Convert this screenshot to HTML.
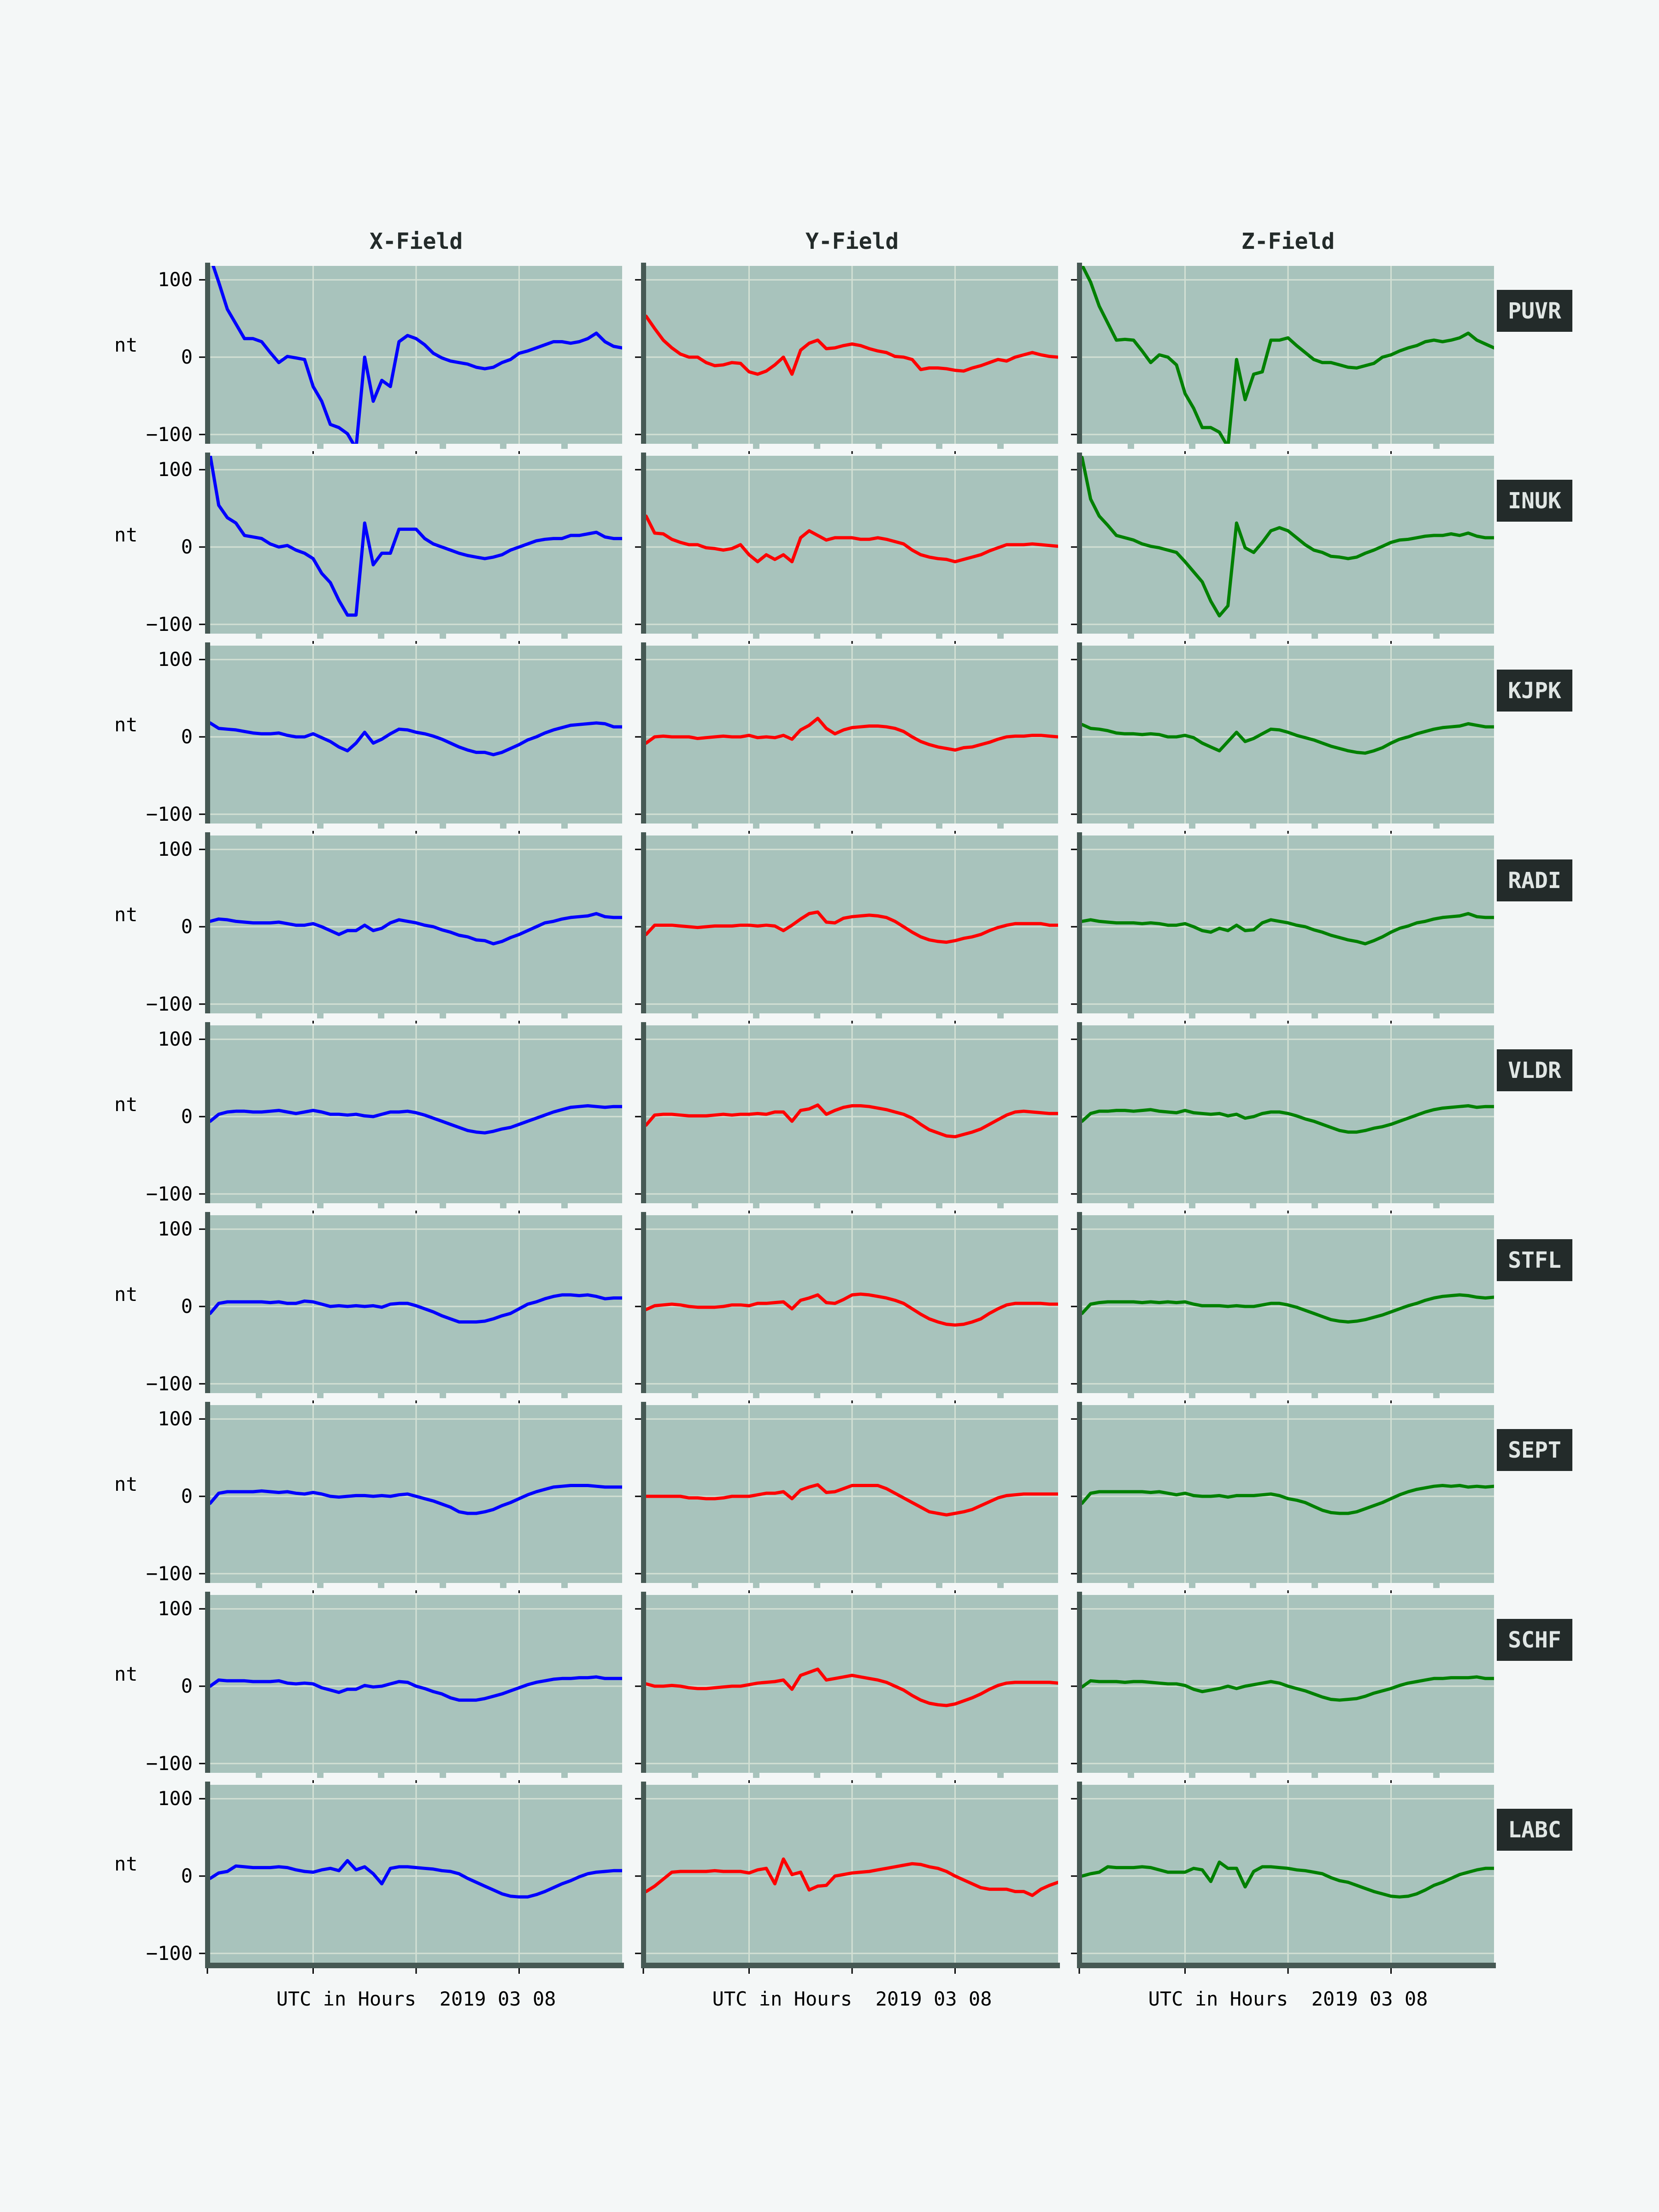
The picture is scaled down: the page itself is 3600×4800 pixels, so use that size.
<!DOCTYPE html>
<html>
<head>
<meta charset="utf-8">
<style>
html,body{margin:0;padding:0;background:#f4f7f7;}
svg{display:block;}
text{font-family:"DejaVu Sans Mono","Liberation Mono",monospace;}
</style>
</head>
<body>
<svg id="chart" xmlns="http://www.w3.org/2000/svg" width="3600" height="4800" viewBox="0 0 3600 4800">
<rect x="0" y="0" width="3600" height="4800" fill="#f4f7f7"/>
</svg>
<script>
const hours = [0,0.5,1,1.5,2,2.5,3,3.5,4,4.5,5,5.5,6,6.5,7,7.5,8,8.5,9,9.5,10,10.5,11,11.5,12,12.5,13,13.5,14,14.5,15,15.5,16,16.5,17,17.5,18,18.5,19,19.5,20,20.5,21,21.5,22,22.5,23,23.5,24];
const yTicks = [100,0,-100];
const yTickLabels = ["100","0","\u2212100"];
const xGridHours = [6,12,18];
const fieldTitles = ["X-Field","Y-Field","Z-Field"];
const stationNames = ["PUVR","INUK","KJPK","RADI","VLDR","STFL","SEPT","SCHF","LABC"];

const puvrX = [130,97,62,43,24,24,20,6,-7,1,-1,-3,-38,-57,-87,-91,-99,-118,0,-57,-30,-38,20,28,24,16,5,-1,-5,-7,-9,-13,-15,-13,-7,-3,5,8,12,16,20,20,18,20,24,31,20,14,12];
const puvrY = [53,37,22,12,4,0,0,-7,-11,-10,-7,-8,-19,-22,-18,-10,0,-22,9,18,22,11,12,15,17,15,11,8,6,1,0,-3,-16,-14,-14,-15,-17,-18,-14,-11,-7,-3,-5,0,3,6,3,1,0];
const puvrZ = [119,97,66,44,22,23,22,8,-7,3,0,-10,-47,-66,-91,-91,-97,-116,-3,-55,-22,-19,22,22,25,15,6,-3,-7,-7,-10,-13,-14,-11,-8,0,3,8,12,15,20,22,20,22,25,31,22,17,12];
const inukX = [119,54,38,31,15,13,11,4,0,2,-4,-8,-15,-34,-46,-69,-88,-88,31,-23,-8,-8,23,23,23,11,4,0,-4,-8,-11,-13,-15,-13,-10,-4,0,4,8,10,11,11,15,15,17,19,13,11,11];
const inukY = [40,18,17,10,6,3,3,-1,-2,-4,-2,3,-10,-19,-10,-16,-10,-19,12,21,15,9,12,12,12,10,10,12,10,7,4,-4,-10,-13,-15,-16,-19,-16,-13,-10,-5,-1,3,3,3,4,3,2,1];
const inukZ = [116,62,40,28,15,12,9,4,1,-1,-4,-7,-19,-32,-45,-70,-89,-76,31,-1,-7,6,21,25,21,12,3,-4,-7,-12,-13,-15,-13,-8,-4,1,6,9,10,12,14,15,15,17,15,18,14,12,12];
const kjpkX = [18,11,10,9,7,5,4,4,5,2,0,0,4,-1,-6,-13,-18,-8,6,-8,-3,4,10,9,6,4,1,-3,-8,-13,-17,-20,-20,-23,-20,-15,-10,-4,0,5,9,12,15,16,17,18,17,13,13];
const kjpkY = [-8,0,1,0,0,0,-2,-1,0,1,0,0,2,-1,0,-1,2,-3,9,15,24,11,4,9,12,13,14,14,13,11,7,0,-6,-10,-13,-15,-17,-14,-13,-10,-7,-3,0,1,1,2,2,1,0];
const kjpkZ = [16,11,10,8,5,4,4,3,4,3,0,0,2,-1,-8,-13,-18,-6,6,-6,-2,4,10,9,6,2,-1,-4,-8,-12,-15,-18,-20,-21,-18,-14,-8,-3,0,4,7,10,12,13,14,17,15,13,13];
const radiX = [7,10,9,7,6,5,5,5,6,4,2,2,4,0,-5,-10,-5,-5,2,-5,-2,5,9,7,5,2,0,-4,-7,-11,-13,-17,-18,-22,-19,-14,-10,-5,0,5,7,10,12,13,14,17,13,12,12];
const radiY = [-10,2,2,2,1,0,-1,0,1,1,1,2,2,1,2,1,-5,2,10,17,19,6,5,11,13,14,15,14,12,7,0,-7,-13,-17,-19,-20,-18,-15,-13,-10,-5,-1,2,4,4,4,4,2,2];
const radiZ = [7,9,7,6,5,5,5,4,5,4,2,2,4,0,-5,-7,-2,-5,2,-5,-4,5,9,7,5,2,0,-4,-7,-11,-14,-17,-19,-22,-18,-13,-7,-2,1,5,7,10,12,13,14,17,13,12,12];
const vldrX = [-6,3,6,7,7,6,6,7,8,6,4,6,8,6,3,3,2,3,1,0,3,6,6,7,5,2,-2,-6,-10,-14,-18,-20,-21,-19,-16,-14,-10,-6,-2,2,6,9,12,13,14,13,12,13,13];
const vldrY = [-11,2,3,3,2,1,1,1,2,3,2,3,3,4,3,6,6,-6,8,10,15,3,8,12,14,14,13,11,9,6,3,-2,-10,-17,-21,-25,-26,-23,-20,-16,-10,-4,2,6,7,6,5,4,4];
const vldrZ = [-6,4,7,7,8,8,7,8,9,7,6,5,8,5,4,3,4,1,3,-2,0,4,6,6,4,1,-3,-6,-10,-14,-18,-20,-20,-18,-15,-13,-10,-6,-2,2,6,9,11,12,13,14,12,13,13];
const stflX = [-9,4,6,6,6,6,6,5,6,4,4,7,6,3,0,1,0,1,0,1,-1,3,4,4,1,-3,-7,-12,-16,-20,-20,-20,-19,-16,-12,-9,-3,3,6,10,13,15,15,14,15,13,10,11,11];
const stflY = [-4,1,2,3,2,0,-1,-1,-1,0,2,2,1,4,4,5,6,-3,8,11,15,5,4,9,15,16,15,13,11,8,4,-3,-10,-16,-20,-23,-24,-23,-20,-16,-9,-3,2,4,4,4,4,3,3];
const stflZ = [-9,3,5,6,6,6,6,5,6,5,6,5,6,3,1,1,1,0,1,0,0,2,4,4,2,-1,-5,-9,-13,-17,-19,-20,-19,-17,-14,-11,-7,-3,1,4,8,11,13,14,15,14,12,11,12];
const septX = [-9,4,6,6,6,6,7,6,5,6,4,3,5,3,0,-1,0,1,1,0,1,0,2,3,0,-3,-6,-10,-14,-20,-22,-22,-20,-17,-12,-8,-3,2,6,9,12,13,14,14,14,13,12,12,12];
const septY = [0,0,0,0,0,-2,-2,-3,-3,-2,0,0,0,2,4,4,6,-3,8,12,15,5,6,10,14,14,14,14,10,4,-2,-8,-14,-20,-22,-24,-22,-20,-17,-12,-7,-2,1,2,3,3,3,3,3];
const septZ = [-9,4,6,6,6,6,6,6,5,6,4,2,4,1,0,0,1,-1,1,1,1,2,3,1,-3,-5,-8,-13,-18,-21,-22,-22,-20,-16,-12,-8,-3,2,6,9,11,13,14,13,14,12,13,12,13];
const schfX = [0,8,7,7,7,6,6,6,7,4,3,4,3,-2,-5,-8,-4,-4,1,-1,0,3,6,5,0,-3,-7,-10,-15,-18,-18,-18,-16,-13,-10,-6,-2,2,5,7,9,10,10,11,11,12,10,10,10];
const schfY = [3,0,0,1,0,-2,-3,-3,-2,-1,0,0,2,4,5,6,8,-4,14,18,22,8,10,12,14,12,10,8,5,0,-5,-12,-18,-22,-24,-25,-23,-19,-15,-10,-4,1,4,5,5,5,5,5,4];
const schfZ = [-1,7,6,6,6,5,6,6,5,4,3,3,1,-4,-7,-5,-3,0,-3,0,2,4,6,4,0,-3,-6,-10,-14,-17,-18,-17,-16,-13,-9,-6,-3,1,4,6,8,10,10,11,11,11,12,10,10];
const labcX = [-3,4,6,13,12,11,11,11,12,11,8,6,5,8,10,7,20,8,12,3,-10,10,12,12,11,10,9,7,6,3,-3,-8,-13,-18,-23,-26,-27,-27,-24,-20,-15,-10,-6,-1,3,5,6,7,7];
const labcY = [-20,-13,-4,5,6,6,6,6,7,6,6,6,4,8,10,-10,22,2,5,-18,-13,-12,0,2,4,5,6,8,10,12,14,16,15,12,10,6,0,-5,-10,-15,-17,-17,-17,-20,-20,-25,-17,-12,-8];
const labcZ = [0,3,5,12,11,11,11,12,11,8,5,5,5,10,8,-7,18,10,10,-14,6,12,12,11,10,8,7,5,3,-2,-6,-8,-12,-16,-20,-23,-26,-27,-26,-23,-18,-12,-8,-3,2,5,8,10,10];

const seriesByStation = [
  [puvrX,puvrY,puvrZ],[inukX,inukY,inukZ],[kjpkX,kjpkY,kjpkZ],
  [radiX,radiY,radiZ],[vldrX,vldrY,vldrZ],[stflX,stflY,stflZ],
  [septX,septY,septZ],[schfX,schfY,schfZ],[labcX,labcY,labcZ]
];
const fieldColors = ["#0000ff","#ff0000","#008000"];

const NS = "http://www.w3.org/2000/svg";
const svg = document.getElementById("chart");
const COLX = [456,1402,2348];
const PW = 894, PH = 386, ROW0 = 577, PITCH = 412;
const YMIN = -112, YMAX = 118, XMIN = 0, XMAX = 24;
function xPos(c,h){ return COLX[c] + (h-XMIN)/(XMAX-XMIN)*PW; }
function yPos(r,v){ return ROW0 + PITCH*r + (YMAX-v)/(YMAX-YMIN)*PH; }
function mk(tag, attrs, parent){
  const e = document.createElementNS(NS, tag);
  for (const k in attrs) e.setAttribute(k, attrs[k]);
  (parent||svg).appendChild(e);
  return e;
}
const defs = mk("defs", {});
const minorOffsets = [106,239,371,505,636,769];

for (let c=0;c<3;c++){
  const t = mk("text",{x:COLX[c]+PW/2, y:540, "text-anchor":"middle", "font-size":"48", "font-weight":"bold", fill:"#232b2a"});
  
  
  t.textContent = fieldTitles[c];
}

for (let r=0;r<9;r++){
  const top = ROW0 + PITCH*r;
  for (let c=0;c<3;c++){
    const left = COLX[c];
    const g = mk("g",{});
    
    
    const bg = mk("rect",{x:left, y:top, width:PW, height:PH, fill:"#a8c3bc"}, g);
    
    
    if (r<8){
      for (const o of minorOffsets){
        const tab = mk("rect",{x:left+o-7, y:top+PH, width:14, height:11, fill:"#a8c3bc"}, g);
        
        
      }
    }
    for (const h of xGridHours){
      const gl = mk("line",{x1:xPos(c,h), x2:xPos(c,h), y1:top, y2:top+PH, stroke:"#d3e0d4", "stroke-width":3}, g);
      
      
      if (r>0){
        const tk = mk("line",{x1:xPos(c,h), x2:xPos(c,h), y1:top-10, y2:top-4, stroke:"#000", "stroke-width":3}, g);
        
        
      }
    }
    for (let i=0;i<yTicks.length;i++){
      const y = yPos(r,yTicks[i]);
      const gl = mk("line",{x1:left, x2:left+PW, y1:y, y2:y, stroke:"#d3e0d4", "stroke-width":3}, g);
      
      
      const tk = mk("line",{x1:left-24, x2:left-11, y1:y, y2:y, stroke:"#000", "stroke-width":3}, g);
      
      
      if (c===0){
        const tl = mk("text",{x:418, y:y+14, "text-anchor":"end", "font-size":"42", fill:"#000"}, g);
        
        
        tl.textContent = yTickLabels[i];
      }
    }
    const clipId = "clip-"+r+"-"+c;
    const cp = mk("clipPath",{id:clipId}, defs);
    mk("rect",{x:left, y:top, width:PW, height:PH}, cp);
    const data = seriesByStation[r][c];
    const pts = data.map((v,i)=> xPos(c,hours[i]).toFixed(1)+","+yPos(r,v).toFixed(1)).join(" ");
    const line = mk("polyline",{points:pts, fill:"none", stroke:fieldColors[c], "stroke-width":7, "stroke-linejoin":"round", "stroke-linecap":"round", "clip-path":"url(#"+clipId+")"}, g);
    
    
    const sp = mk("rect",{x:left-11, y:top-7, width:11, height:PH+7, fill:"#465954"}, g);
    
    
    if (c===0){
      const nt = mk("text",{x:248, y:yPos(r,0)-12, "font-size":"42", fill:"#000"}, g);
      
      
      nt.textContent = "nt";
    }
    if (r===8){
      const bs = mk("rect",{x:left-11, y:top+PH, width:PW+15, height:12, fill:"#465954"}, g);
      
      
      const tickHours = [0].concat(xGridHours);
      for (const h of tickHours){
        const tk = mk("line",{x1:xPos(c,h)-(h===0?6:0), x2:xPos(c,h)-(h===0?6:0), y1:top+PH+12, y2:top+PH+24, stroke:"#000", "stroke-width":3}, g);
        
        
      }
      const xl = mk("text",{x:left+PW/2, y:4352, "text-anchor":"middle", "font-size":"42", fill:"#000"}, g);
      
      
      xl.textContent = "UTC in Hours \u00a02019 03 08";
    }
  }
  const lb = mk("g",{});
  
  
  mk("rect",{x:3248, y:top+52, width:164, height:91, fill:"#232b2a"}, lb);
  const lt = mk("text",{x:3330, y:top+114, "text-anchor":"middle", "font-size":"48", "font-weight":"bold", fill:"#e0e6e4"}, lb);
  lt.textContent = stationNames[r];
}
</script>
</body>
</html>
